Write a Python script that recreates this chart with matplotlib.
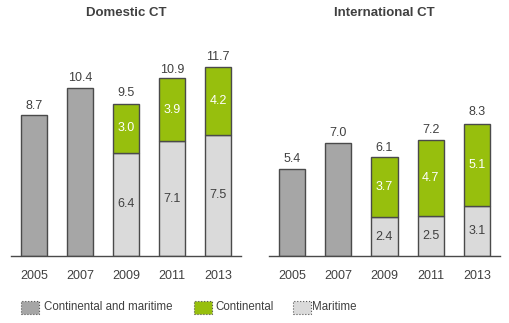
import matplotlib
matplotlib.use("Agg")
import matplotlib.pyplot as plt
from matplotlib.patches import Rectangle

plt.rcParams['font.family'] = ['Liberation Sans', 'DejaVu Sans']

years = ["2005", "2007", "2009", "2011", "2013"]
dom_combined = [8.7, 10.4, None, None, None]
dom_maritime = [None, None, 6.4, 7.1, 7.5]
dom_continental = [None, None, 3.0, 3.9, 4.2]
dom_total = [8.7, 10.4, 9.5, 10.9, 11.7]

int_combined = [5.4, 7.0, None, None, None]
int_maritime = [None, None, 2.4, 2.5, 3.1]
int_continental = [None, None, 3.7, 4.7, 5.1]
int_total = [5.4, 7.0, 6.1, 7.2, 8.3]

titles = ["Domestic CT", "International CT"]
legend_labels = ["Continental and maritime", "Continental", "Maritime"]

C_COMB = "#A6A6A6"
C_CONT = "#97BF0D"
C_MAR = "#DADADA"
EDGE = "#4A4A4A"
TXT = "#404040"

W, H = 509, 323
fig = plt.figure(figsize=(W / 100, H / 100), dpi=100)

def px_axes(x0, x1, ybase, ytop):
    return fig.add_axes([x0 / W, (H - ybase) / H, (x1 - x0) / W, (ybase - ytop) / H])

ymax = 13.0
ppu = 16.15
panels = [
    (11, 241, dom_combined, dom_maritime, dom_continental, dom_total, titles[0]),
    (269, 500, int_combined, int_maritime, int_continental, int_total, titles[1]),
]
bw = 26 / 46
for x0, x1, comb, mar, cont, tot, title in panels:
    ax = px_axes(x0, x1, 256, 256 - ymax * ppu)
    xs = list(range(len(years)))
    for i in xs:
        if comb[i] is not None:
            ax.bar(i, comb[i], width=bw, color=C_COMB, edgecolor=EDGE, linewidth=1.0, zorder=2)
        if mar[i] is not None:
            ax.bar(i, mar[i], width=bw, color=C_MAR, edgecolor=EDGE, linewidth=1.0, zorder=2)
            ax.text(i, mar[i] / 2, f"{mar[i]:.1f}", ha="center", va="center", fontsize=9, color=TXT)
        if cont[i] is not None:
            ax.bar(i, cont[i], bottom=mar[i], width=bw, color=C_CONT, edgecolor=EDGE, linewidth=1.0, zorder=2)
            ax.text(i, mar[i] + cont[i] / 2, f"{cont[i]:.1f}", ha="center", va="center", fontsize=9, color="white")
        ax.text(i, tot[i] + 0.22, f"{tot[i]:.1f}", ha="center", va="bottom", fontsize=9, color=TXT)
    ax.set_xlim(-0.5, 4.5)
    ax.set_ylim(0, ymax)
    for s in ["top", "right", "left"]:
        ax.spines[s].set_visible(False)
    ax.spines["bottom"].set_color(EDGE)
    ax.spines["bottom"].set_linewidth(1.0)
    ax.set_yticks([])
    ax.set_xticks(xs)
    ax.set_xticklabels(years, fontsize=9, color=TXT)
    ax.tick_params(axis="x", length=0, pad=10)
    fig.text((x0 + x1) / 2 / W, 1 - 12.5 / H, title, ha="center", va="center",
             fontsize=9.5, fontweight="bold", color=TXT)

# legend
leg = [(21, 44, C_COMB, legend_labels[0]), (194, 215, C_CONT, legend_labels[1]), (293, 312, C_MAR, legend_labels[2])]
for px, tx, col, lab in leg:
    fig.patches.append(Rectangle((px / W, 1 - 314 / H), 18 / W, 13 / H, transform=fig.transFigure,
                                 facecolor=col, edgecolor="#555555", linewidth=0.8, linestyle=":"))
    fig.text(tx / W, 1 - 307.5 / H, lab, ha="left", va="center", fontsize=8.3, color=TXT)

fig.savefig("out.png", dpi=100, facecolor="white")
